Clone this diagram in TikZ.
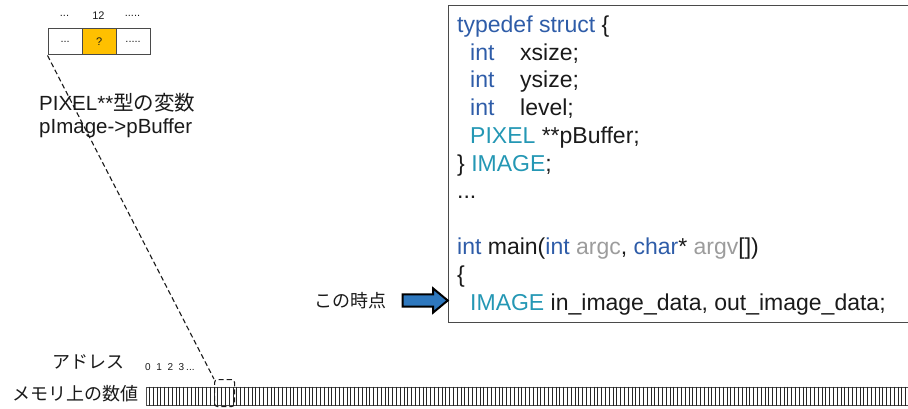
\documentclass[tikz,border=0pt]{standalone}
\usepackage{fontspec}
\setmainfont{Liberation Sans}
\newfontfamily\jp{Noto Sans CJK JP}
\definecolor{kw}{HTML}{2E5CA8}
\definecolor{ty}{HTML}{2497B4}
\definecolor{arg}{HTML}{9C9C9C}
\definecolor{ink}{HTML}{1A1A1A}
\definecolor{gold}{HTML}{FFC000}
\definecolor{arrowblue}{HTML}{2E78BE}
\definecolor{frame}{HTML}{4A4A4A}
\tikzset{
  cell/.style={draw=frame, line width=1.2pt, minimum width=34pt, minimum height=26pt,
    inner sep=0pt, anchor=north west, font=\fontsize{11}{13}\selectfont, text=ink},
  toplabel/.style={font=\fontsize{11}{13}\selectfont, text=ink, inner sep=0pt},
  codeline/.style={anchor=base west, inner sep=0pt, text=ink, font=\fontsize{23}{27}\selectfont},
  jplabel/.style={inner sep=0pt, text=ink, font=\fontsize{18}{20}\jp\selectfont},
  link/.style={draw=ink, line width=1.1pt, dash pattern=on 5pt off 3pt},
  cellline/.style={draw=black!85, line width=0.8pt},
  blockarrow/.style={draw=black, line width=2pt, fill=arrowblue, line join=miter},
}
\newcommand{\kw}[1]{\textcolor{kw}{#1}}
\newcommand{\ty}[1]{\textcolor{ty}{#1}}
\newcommand{\ag}[1]{\textcolor{arg}{#1}}
\begin{document}
\begin{tikzpicture}[x=1pt, y=-1pt]
\useasboundingbox (0,0) rectangle (908,409);

% small pointer array
\node[cell] (c1) at (47.5,28.3) {...};
\node[cell, fill=gold] (c2) at (81.5,28.3) {?};
\node[cell] (c3) at (115.5,28.3) {.....};
\node[toplabel] (t1) at (64.5,16) {...};
\node[toplabel] (t2) at (98.5,16) {12};
\node[toplabel] (t3) at (132.5,16) {.....};

% variable description
\node[inner sep=0pt, anchor=west, text=ink, font=\fontsize{20.5}{22}\selectfont] (v1) at (39,103) {PIXEL**{\jp 型の変数}};
\node[inner sep=0pt, anchor=west, text=ink, font=\fontsize{20.5}{22}\selectfont] (v2) at (39,128) {pImage->pBuffer};

% code listing frame
\node[draw=frame, line width=1.2pt, anchor=north west, minimum width=500pt, minimum height=316.5pt, inner sep=0pt] (box) at (447.7,5) {};

\node[codeline] (l1) at (457,32.3) {\kw{typedef struct} \{};
\node[codeline] (l2) at (457,60.1) {\hspace*{13pt}\makebox[50pt][l]{\kw{int}}xsize;};
\node[codeline] (l3) at (457,87.8) {\hspace*{13pt}\makebox[50pt][l]{\kw{int}}ysize;};
\node[codeline] (l4) at (457,115.6) {\hspace*{13pt}\makebox[50pt][l]{\kw{int}}level;};
\node[codeline] (l5) at (457,143.4) {\hspace*{13pt}\ty{PIXEL} **pBuffer;};
\node[codeline] (l6) at (457,171.2) {\} \ty{IMAGE};};
\node[codeline] (l7) at (457,198.9) {...};
\node[codeline] (l9) at (457,254.5) {\kw{int} main(\kw{int} \ag{argc}, \kw{char}* \ag{argv}[])};
\node[codeline] (l10) at (457,282.2) {\{};
\node[codeline] (l11) at (457,310) {\hspace*{13pt}\ty{IMAGE} in\_image\_data, out\_image\_data;};

% "this moment" pointer: block arrow whose tip touches the frame
\coordinate (tip) at (box.west |- 0,300.5);
\draw[blockarrow] (tip) -- ++(-14.5,-12) -- ++(0,5.8) -- ++(-30.5,0) -- ++(0,12.4)
  -- ++(30.5,0) -- ++(0,5.8) -- cycle;
\node[jplabel, anchor=east] (now) at (387,300.5) {この時点};

% memory strip
\node[jplabel, anchor=west] (addr) at (52,362) {アドレス};
\node[inner sep=0pt, anchor=west, text=ink, font=\fontsize{10}{12}\selectfont] (nums) at (145,367.5)
  {0\hspace{5.6pt}1\hspace{5.6pt}2\hspace{5.6pt}3\hspace{2pt}...};
\node[jplabel, anchor=west] (val) at (12,393.5) {メモリ上の数値};
\node[draw=black!70, line width=1.3pt, anchor=north west, minimum width=775pt, minimum height=18pt, inner sep=0pt] (mem) at (145.5,386.5) {};
\foreach \i in {1,...,202}
  \draw[cellline] ([xshift=\i*3.8pt]mem.north west) -- ([xshift=\i*3.8pt]mem.south west);

% selected cell and its link to the array
\node[link, rounded corners=3pt, minimum width=20pt, minimum height=27pt, inner sep=0pt, anchor=north west] (sel) at (214,379) {};
\draw[link] (c1.south west) -- (sel.north west);
\end{tikzpicture}
\end{document}
